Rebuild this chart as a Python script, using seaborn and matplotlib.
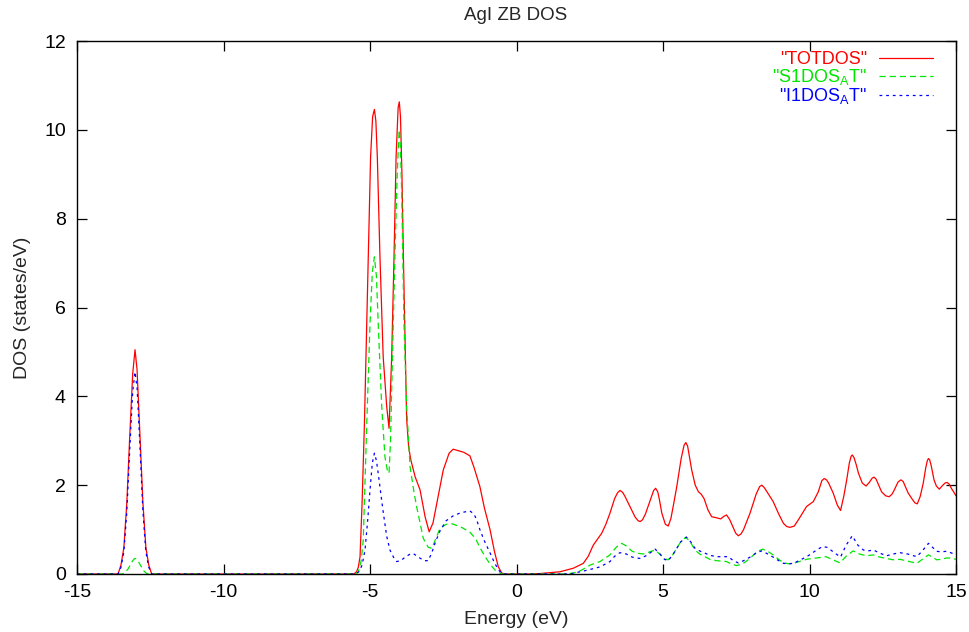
import numpy as np
import pandas as pd
import matplotlib
matplotlib.use("Agg")
import matplotlib.pyplot as plt
import seaborn as sns

# ---------------- data ----------------
energy_tot = [-15.0, -13.6, -13.5, -13.4, -13.3, -13.2, -13.1, -13.02, -12.95, -12.85, -12.75, -12.65, -12.55, -12.45,
              -5.55, -5.46, -5.4, -5.34, -5.27, -5.19, -5.06, -4.98, -4.91, -4.85, -4.8, -4.75, -4.66, -4.55, -4.43,
              -4.35, -4.26, -4.18, -4.11, -4.04, -4.0, -3.96, -3.91, -3.86, -3.79, -3.75, -3.68, -3.6, -3.46, -3.29, -3.12,
              -2.98, -2.85, -2.72, -2.5, -2.3, -2.16, -2.0, -1.8, -1.59, -1.45, -1.25, -1.1, -0.9, -0.75, -0.62, -0.5,
              -0.4, 0.5, 0.8, 1.48, 1.94, 2.28, 2.45, 2.62, 2.91, 3.05, 3.19, 3.35, 3.45, 3.53, 3.62, 3.7, 3.87,
              4.05, 4.15, 4.22, 4.3, 4.4, 4.56, 4.68, 4.75, 4.82, 4.87, 4.96, 5.08, 5.18, 5.27, 5.37, 5.47, 5.62,
              5.72, 5.78, 5.84, 5.9, 5.98, 6.1, 6.21, 6.3, 6.4, 6.53, 6.66, 6.8, 6.97, 7.08, 7.17, 7.28, 7.38, 7.48,
              7.57, 7.66, 7.75, 7.97, 8.18, 8.3, 8.37, 8.45, 8.55, 8.76, 8.95, 9.11, 9.22, 9.33, 9.48, 9.62, 9.9,
              10.13, 10.3, 10.42, 10.5, 10.58, 10.65, 10.81, 10.95, 11.06, 11.17, 11.27, 11.36, 11.42, 11.46, 11.52,
              11.6, 11.67, 11.8, 11.93, 12.05, 12.14, 12.2, 12.27, 12.33, 12.46, 12.6, 12.72, 12.82, 12.9, 13.02,
              13.12, 13.2, 13.25, 13.37, 13.52, 13.6, 13.68, 13.78, 13.88, 13.97, 14.02, 14.06, 14.1, 14.15, 14.25,
              14.33, 14.43, 14.55, 14.63, 14.7, 14.77, 14.85, 14.92, 15.0]
dos_tot = [0.0, 0.0, 0.2, 0.6, 1.6, 3.1, 4.5, 5.05, 4.6, 3.1, 1.6, 0.6, 0.2, 0.0,
           0.0, 0.05, 0.15, 0.39, 1.6, 3.39, 7.14, 9.39, 10.3, 10.46, 10.2, 9.39, 7.14, 4.89, 3.77,
           3.28, 4.89, 7.14, 9.39, 10.5, 10.63, 10.3, 9.0, 7.14, 4.89, 3.5, 2.85, 2.55, 2.19, 1.89, 1.29,
           0.95, 1.15, 1.59, 2.34, 2.72, 2.81, 2.78, 2.74, 2.66, 2.4, 1.97, 1.5, 0.99, 0.5, 0.16, 0.02,
           0.0, 0.0, 0.01, 0.05, 0.13, 0.24, 0.4, 0.65, 0.92, 1.12, 1.37, 1.7, 1.83, 1.88, 1.84, 1.75, 1.52,
           1.28, 1.2, 1.18, 1.22, 1.35, 1.65, 1.88, 1.93, 1.85, 1.7, 1.37, 1.12, 1.08, 1.25, 1.6, 1.97, 2.6,
           2.9, 2.96, 2.88, 2.65, 2.34, 2.0, 1.85, 1.8, 1.7, 1.45, 1.29, 1.27, 1.24, 1.3, 1.33, 1.22, 1.07, 0.92,
           0.86, 0.9, 1.0, 1.37, 1.8, 1.97, 2.0, 1.95, 1.85, 1.63, 1.35, 1.14, 1.07, 1.05, 1.08, 1.22, 1.52,
           1.63, 1.85, 2.1, 2.15, 2.12, 2.05, 1.82, 1.55, 1.43, 1.75, 2.12, 2.5, 2.65, 2.68, 2.62,
           2.45, 2.27, 2.05, 1.98, 2.07, 2.16, 2.18, 2.14, 2.05, 1.85, 1.76, 1.74, 1.8, 1.9, 2.07,
           2.12, 2.08, 2.0, 1.82, 1.67, 1.6, 1.58, 1.75, 2.04, 2.4, 2.55, 2.6, 2.57, 2.45, 2.12,
           1.98, 1.91, 2.0, 2.05, 2.06, 2.02, 1.92, 1.85, 1.76]

energy_s1 = [-15.0, -13.45, -13.35, -13.25, -13.15, -13.05, -13.0, -12.92, -12.82, -12.72, -12.62, -12.55,
             -5.5, -5.4, -5.3, -5.23, -5.11, -5.0, -4.92, -4.85, -4.78, -4.72, -4.6, -4.49, -4.4, -4.35, -4.3,
             -4.26, -4.15, -4.07, -4.02, -4.0, -3.96, -3.92, -3.84, -3.75, -3.63, -3.5, -3.41, -3.18, -3.01, -2.89,
             -2.75, -2.61, -2.4, -2.2, -1.9, -1.59, -1.4, -1.25, -1.1, -0.9, -0.75, -0.62, -0.5,
             1.6, 1.94, 2.2, 2.51, 2.85, 3.19, 3.4, 3.59, 3.75, 3.93, 4.1, 4.33, 4.55, 4.73, 4.9, 5.05, 5.18,
             5.35, 5.6, 5.78, 5.95, 6.09, 6.25, 6.43, 6.6, 6.83, 7.0, 7.17, 7.35, 7.51, 7.7, 7.97, 8.2, 8.4, 8.6,
             8.76, 8.95, 9.11, 9.3, 9.45, 9.7, 9.9, 10.1, 10.36, 10.56, 10.8, 11.04, 11.25, 11.49, 11.7, 11.95,
             12.18, 12.4, 12.63, 12.85, 13.09, 13.35, 13.66, 13.85, 14.06, 14.2, 14.34, 14.5, 14.67, 14.82, 15.0]
dos_s1 = [0.0, 0.0, 0.04, 0.12, 0.25, 0.34, 0.35, 0.3, 0.18, 0.07, 0.01, 0.0,
          0.0, 0.05, 0.3, 0.77, 3.39, 5.64, 6.8, 7.14, 6.7, 5.64, 3.77, 2.64, 2.3, 2.27, 3.0,
          4.14, 7.14, 9.02, 9.8, 10.0, 9.6, 8.64, 5.64, 3.77, 2.4, 1.85, 1.52, 0.8, 0.6, 0.58,
          0.8, 1.03, 1.12, 1.13, 1.06, 0.94, 0.8, 0.6, 0.42, 0.22, 0.1, 0.04, 0.0,
          0.0, 0.02, 0.08, 0.2, 0.28, 0.43, 0.6, 0.69, 0.63, 0.52, 0.47, 0.45, 0.5, 0.54, 0.44, 0.34, 0.32,
          0.45, 0.72, 0.83, 0.7, 0.54, 0.45, 0.39, 0.33, 0.3, 0.29, 0.28, 0.22, 0.19, 0.22, 0.35, 0.5, 0.56, 0.5,
          0.43, 0.33, 0.25, 0.23, 0.24, 0.29, 0.33, 0.35, 0.37, 0.39, 0.32, 0.25, 0.4, 0.52, 0.45, 0.41,
          0.43, 0.38, 0.35, 0.32, 0.33, 0.29, 0.24, 0.33, 0.43, 0.38, 0.32, 0.33, 0.36, 0.36, 0.33]

energy_i1 = [-15.0, -13.6, -13.5, -13.4, -13.3, -13.2, -13.1, -13.02, -12.95, -12.85, -12.75, -12.65, -12.55, -12.45,
             -5.5, -5.38, -5.27, -5.17, -5.08, -5.0, -4.92, -4.85, -4.78, -4.72, -4.63, -4.55, -4.43, -4.32, -4.2,
             -4.09, -3.95, -3.8, -3.63, -3.52, -3.35, -3.15, -3.01, -2.88, -2.75, -2.61, -2.4, -2.16, -1.9, -1.59,
             -1.45, -1.36, -1.25, -1.1, -0.9, -0.75, -0.6, -0.5, -0.4,
             1.8, 2.17, 2.5, 2.85, 3.19, 3.35, 3.53, 3.75, 3.95, 4.22, 4.45, 4.73, 4.9, 5.05, 5.18, 5.35, 5.6, 5.8,
             5.95, 6.09, 6.25, 6.43, 6.6, 6.83, 7.0, 7.23, 7.4, 7.57, 7.75, 7.97, 8.2, 8.37, 8.55, 8.76, 8.95, 9.11,
             9.3, 9.45, 9.7, 9.9, 10.05, 10.24, 10.45, 10.6, 10.85, 11.06, 11.25, 11.46, 11.65, 11.84, 12.0, 12.18,
             12.4, 12.63, 12.85, 13.09, 13.35, 13.66, 13.85, 14.06, 14.2, 14.34, 14.5, 14.67, 14.82, 15.0]
dos_i1 = [0.0, 0.0, 0.15, 0.5, 1.4, 2.8, 4.1, 4.55, 4.2, 2.85, 1.4, 0.5, 0.15, 0.0,
          0.0, 0.05, 0.2, 0.54, 1.2, 1.89, 2.5, 2.72, 2.55, 2.27, 1.8, 1.4, 0.85, 0.54, 0.38,
          0.28, 0.3, 0.38, 0.45, 0.46, 0.38, 0.3, 0.3, 0.5, 0.75, 0.97, 1.2, 1.31, 1.38, 1.42,
          1.35, 1.22, 1.0, 0.75, 0.47, 0.25, 0.08, 0.02, 0.0,
          0.0, 0.05, 0.1, 0.16, 0.28, 0.4, 0.48, 0.45, 0.38, 0.35, 0.42, 0.56, 0.45, 0.33, 0.3, 0.45, 0.72, 0.83,
          0.72, 0.58, 0.52, 0.47, 0.42, 0.39, 0.39, 0.39, 0.3, 0.25, 0.3, 0.38, 0.48, 0.52, 0.46, 0.38, 0.3, 0.24,
          0.23, 0.24, 0.32, 0.39, 0.45, 0.54, 0.62, 0.6, 0.48, 0.38, 0.65, 0.86, 0.65, 0.54, 0.52, 0.54,
          0.47, 0.41, 0.45, 0.48, 0.45, 0.39, 0.52, 0.69, 0.6, 0.51, 0.5, 0.51, 0.48, 0.43]

series_names = ["TOTDOS", "S1DOS_AT", "I1DOS_AT"]
legend_labels = ['"TOTDOS"', '"S1DOS$_\\mathregular{A}$T"', '"I1DOS$_\\mathregular{A}$T"']
x_ticks = [-15, -10, -5, 0, 5, 10, 15]
y_ticks = [0, 2, 4, 6, 8, 10, 12]

# ---------------- figure ----------------
sns.set_theme(style="ticks")
plt.rcParams["font.family"] = ["Liberation Sans", "DejaVu Sans"]
plt.rcParams["mathtext.fontset"] = "custom"
plt.rcParams["mathtext.rm"] = "Liberation Sans"
plt.rcParams["lines.scale_dashes"] = False
plt.rcParams["axes.unicode_minus"] = False

df = pd.concat([
    pd.DataFrame({"E": energy_tot, "DOS": dos_tot, "series": series_names[0]}),
    pd.DataFrame({"E": energy_s1, "DOS": dos_s1, "series": series_names[1]}),
    pd.DataFrame({"E": energy_i1, "DOS": dos_i1, "series": series_names[2]}),
], ignore_index=True)

palette = {series_names[0]: "#ff0000", series_names[1]: "#00e600", series_names[2]: "#0000ff"}
dashes = {series_names[0]: "", series_names[1]: (4.5, 2.8), series_names[2]: (2.0, 2.8)}

fig = plt.figure(figsize=(9.69, 6.32), dpi=100)
ax = fig.add_axes([77 / 969, 1 - 574 / 632, 879 / 969, 533 / 632])

sns.lineplot(data=df, x="E", y="DOS", hue="series", style="series", palette=palette,
             dashes=dashes, estimator=None, sort=False, linewidth=0.9, ax=ax,
             hue_order=series_names, style_order=series_names)

ax.set_xlim(-15, 15)
ax.set_ylim(0, 12)
ax.set_xticks(x_ticks)
ax.set_yticks(y_ticks)
ax.tick_params(direction="in", length=7, width=0.9, top=True, right=True,
               labelsize=14, colors="black")
ax.tick_params(axis="x", pad=7)
ax.tick_params(axis="y", pad=8)
for s in ax.spines.values():
    s.set_color("black")
    s.set_linewidth(1.0)

ax.set_xlabel("Energy (eV)", fontsize=14)
ax.set_ylabel("DOS (states/eV)", fontsize=14)
ax.xaxis.set_label_coords(0.5, -0.07)
ax.yaxis.set_label_coords(-0.052, 0.5)
fig.text(516 / 969, 1 - 16 / 632, "AgI ZB DOS", ha="center", va="center", fontsize=13.5)

handles, _ = ax.get_legend_handles_labels()
leg = ax.legend(handles[:3], legend_labels, loc="upper right",
                bbox_to_anchor=(933 / 969, 1 - 51 / 632), bbox_transform=fig.transFigure,
                frameon=False, markerfirst=False, labelcolor="linecolor",
                handlelength=3.0, handletextpad=0.66, labelspacing=-0.05, borderpad=0,
                borderaxespad=0, fontsize=13)

fig.savefig("out.png", dpi=100, facecolor="white")
